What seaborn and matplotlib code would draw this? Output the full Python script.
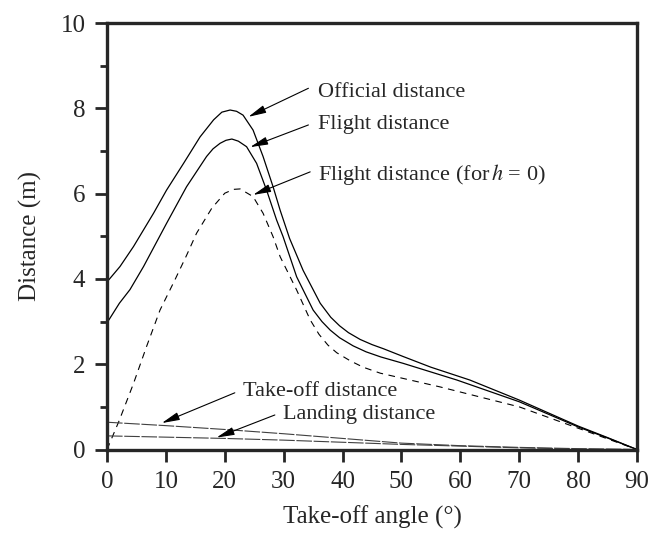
import numpy as np
import pandas as pd
import matplotlib
matplotlib.use('Agg')
import matplotlib.pyplot as plt
import seaborn as sns

# values
official_angle = [0, 2.2, 4.5, 7.9, 10.1, 13.0, 15.8, 18.1, 19.5, 20.9, 22.0, 23.1,
                  24.8, 26.5, 28.2, 29.4, 31.0, 33.3, 36.2, 38.0, 39.5, 41.0,
                  43.0, 45.0, 47.0, 50.3, 55.0, 61.6, 70, 80, 85, 90]
official_dist = [3.93, 4.29, 4.76, 5.54, 6.08, 6.71, 7.33, 7.73, 7.91, 7.96, 7.93, 7.84,
                 7.49, 6.87, 6.16, 5.61, 4.95, 4.20, 3.43, 3.10, 2.90, 2.74,
                 2.58, 2.46, 2.36, 2.18, 1.93, 1.63, 1.16, 0.55, 0.28, 0]

flight_angle = [0, 2.1, 3.9, 6.2, 10.1, 13.5, 16.9, 18.0, 19.2, 20.2, 21.2, 22.3,
                23.7, 25.4, 27.1, 28.8, 29.9, 32.2, 35.0, 36.5, 37.9, 39.5,
                41.8, 44.0, 46.5, 50.3, 59.4, 70, 80, 85, 90]
flight_dist = [2.97, 3.43, 3.75, 4.29, 5.30, 6.16, 6.87, 7.05, 7.18, 7.25, 7.28, 7.23,
               7.10, 6.71, 6.08, 5.38, 4.99, 4.05, 3.27, 3.00, 2.80, 2.62,
               2.43, 2.29, 2.17, 2.02, 1.63, 1.12, 0.53, 0.27, 0]

flight_h0_angle = [0, 2.1, 4.5, 6.7, 9.0, 11.5, 13.5, 15.2, 17.8, 20.0, 21.5, 22.6,
                   24.8, 26.5, 28.2, 29.4, 32.2, 34.5, 36.0, 37.5, 39.0, 41.3,
                   43.5, 46.4, 56.5, 70, 80, 90]
flight_h0_dist = [0.0, 0.69, 1.55, 2.41, 3.27, 3.97, 4.55, 5.07, 5.66, 6.01, 6.10, 6.11,
                  5.93, 5.54, 4.99, 4.52, 3.74, 3.04, 2.70, 2.45, 2.27, 2.08,
                  1.93, 1.79, 1.47, 1.00, 0.50, 0]

ground_angle = [0, 10, 20, 30, 40, 50, 60, 70, 80, 90]
takeoff_dist = [0.64, 0.56, 0.47, 0.37, 0.26, 0.15, 0.09, 0.05, 0.02, 0]
landing_dist = [0.32, 0.29, 0.26, 0.22, 0.17, 0.12, 0.08, 0.04, 0.01, 0]

x_ticks = [0, 10, 20, 30, 40, 50, 60, 70, 80, 90]
y_ticks = [0, 2, 4, 6, 8, 10]


sns.set_style('ticks')
plt.rcParams['font.family'] = ['Liberation Serif', 'DejaVu Serif']
plt.rcParams['mathtext.fontset'] = 'stix'

fig = plt.figure(figsize=(6.53, 5.34), dpi=100)
ax = fig.add_axes([0.1639, 0.1582, 0.8116, 0.7987])

sns.lineplot(x=official_angle, y=official_dist, ax=ax,
             color='black', linewidth=0.9)
sns.lineplot(x=flight_angle, y=flight_dist, ax=ax,
             color='black', linewidth=0.9)
sns.lineplot(x=flight_h0_angle, y=flight_h0_dist, ax=ax,
             color='black', linewidth=0.8, linestyle=(0, (6, 5)))
sns.lineplot(x=ground_angle, y=takeoff_dist, ax=ax,
             color='0.25', linewidth=0.8, linestyle=(0, (14, 1.5)))
sns.lineplot(x=ground_angle, y=landing_dist, ax=ax,
             color='0.25', linewidth=0.8, linestyle=(0, (14, 1.5)))

ax.set_xlim(0, 90)
ax.set_ylim(0, 10)
ax.set_xticks(x_ticks)
ax.set_yticks(y_ticks)
ax.set_yticks([1, 3, 5, 7, 9], minor=True)

ax.tick_params(axis='both', which='major', direction='out',
               length=8.5, width=2.0, labelsize=18, pad=7)
ax.tick_params(axis='y', which='minor', direction='out',
               length=5, width=2.0)

for side in ['left', 'right', 'top', 'bottom']:
    ax.spines[side].set_visible(True)
    ax.spines[side].set_linewidth(2.4)

ax.set_xlabel('Take-off angle (°)', fontsize=18, labelpad=9)
ax.set_ylabel('Distance (m)', fontsize=18, labelpad=13)

arrow = dict(arrowstyle='-|>,head_length=0.9,head_width=0.2',
             color='black', lw=0.8, mutation_scale=12,
             shrinkA=0, shrinkB=0)

labels = [
    ('Official distance', (35.8, 8.36), (34.2, 8.47), (24.0, 7.80)),
    ('Flight distance', (35.8, 7.61), (34.2, 7.61), (24.3, 7.09)),
    (r'Flight distance (for$\,h$ = 0)', (35.8, 6.44), (34.5, 6.51), (24.8, 5.97)),
    ('Take-off distance', (23.1, 1.36), (21.7, 1.33), (9.3, 0.62)),
    ('Landing distance', (29.9, 0.81), (28.5, 0.81), (18.6, 0.28)),
]

for text, text_pos, tail, tip in labels:
    ax.text(text_pos[0], text_pos[1], text,
            fontsize=16, ha='left', va='center')
    ax.annotate('', xy=tip, xytext=tail, arrowprops=arrow)

fig.savefig('out.png', dpi=100)
